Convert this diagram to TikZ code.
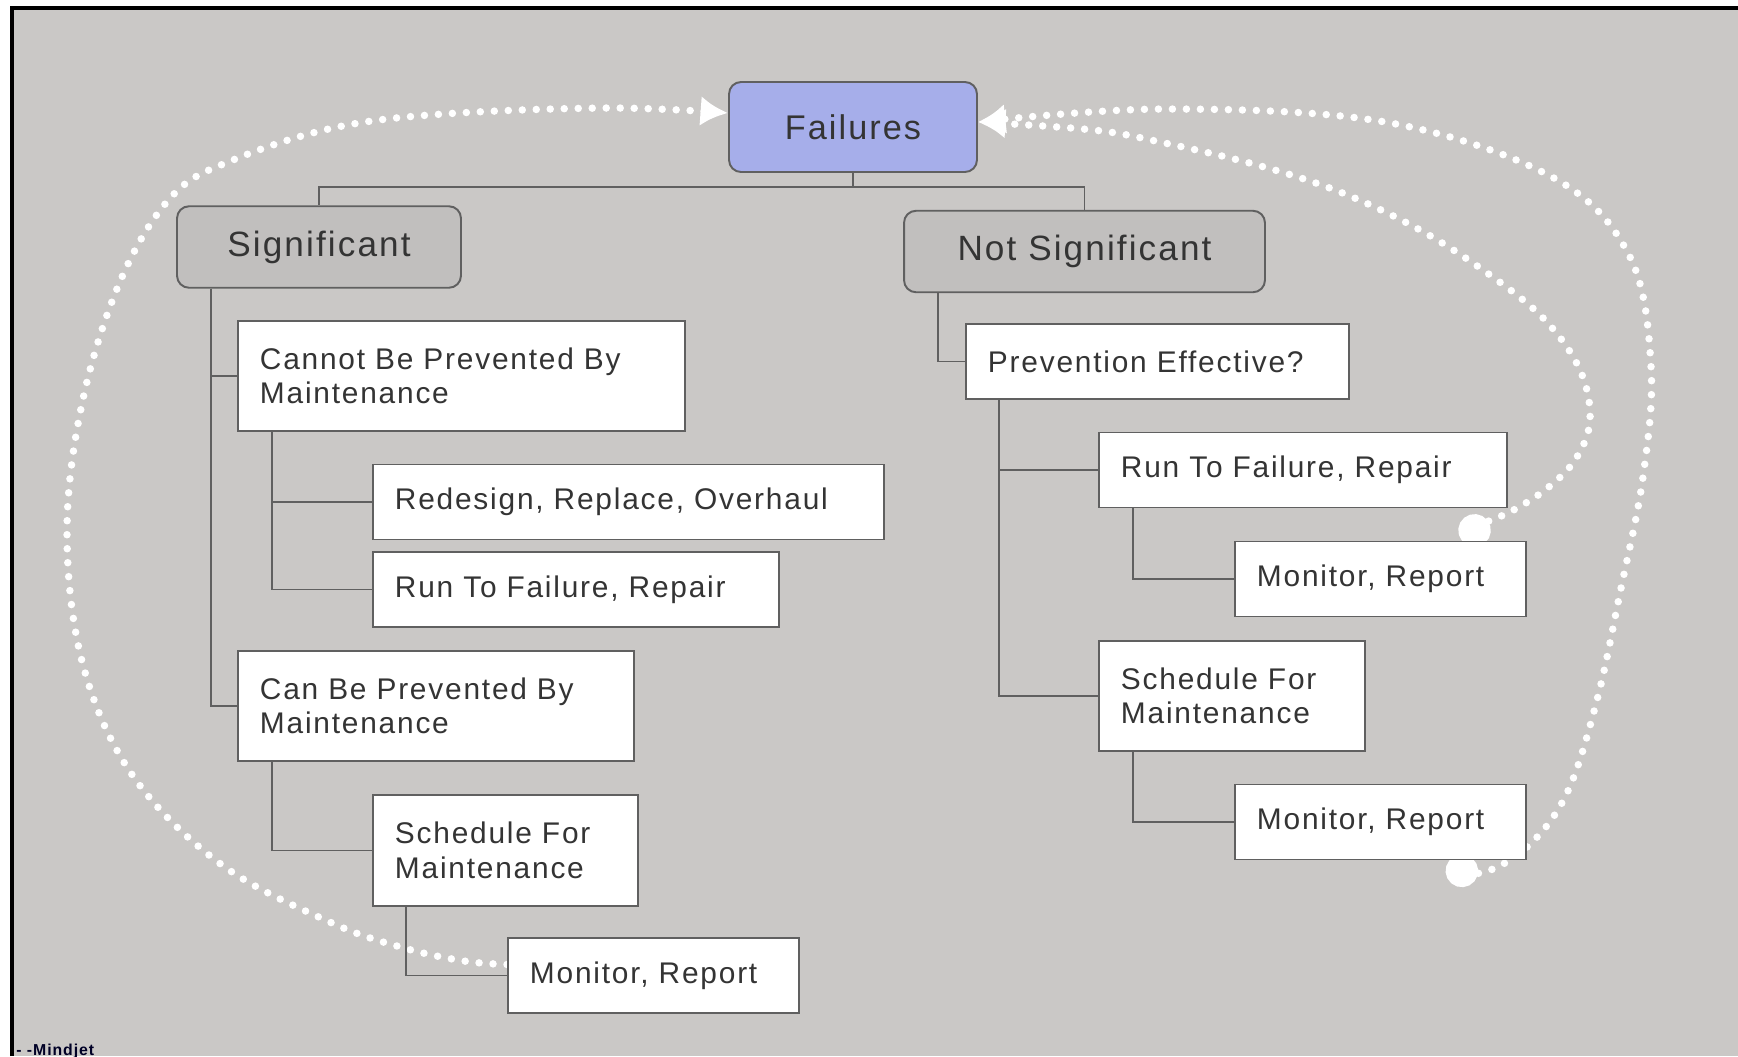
\documentclass[tikz,border=0pt]{standalone}
\usepackage{fontspec}
\setmainfont{Liberation Sans}[LetterSpace=6]
\usetikzlibrary{arrows.meta,calc,backgrounds}
\definecolor{canvasgray}{RGB}{202,200,198}
\definecolor{headgray}{RGB}{193,191,190}
\definecolor{rootblue}{RGB}{166,174,234}
\definecolor{linegray}{RGB}{96,96,96}
\definecolor{textgray}{RGB}{52,52,52}

\begin{document}
\begin{tikzpicture}[x=0.02cm, y=-0.02cm,
    root/.style={rectangle, draw=linegray, fill=rootblue, rounded corners=0.24cm, line width=1.1pt, text=textgray, font=\fontsize{19.5}{23}\selectfont, minimum width=4.96cm, minimum height=1.8cm},
    branch/.style={rectangle, draw=linegray, fill=headgray, rounded corners=0.24cm, line width=1.1pt, text=textgray, font=\fontsize{20}{24}\selectfont, minimum height=1.63cm},
    leaf/.style={rectangle, draw=linegray, fill=white, line width=1.1pt, text=textgray, font=\fontsize{17}{19.6}\selectfont, anchor=west, align=left, inner xsep=0.44cm, minimum height=1.5cm},
    tree/.style={draw=linegray, line width=1.1pt},
    loop/.style={draw=white, line width=0.15cm, line cap=round, dash pattern=on 0pt off 0.28cm, -{Latex[length=0.55cm,width=0.6cm]}}
]
\useasboundingbox (0,0) rectangle (1738,1056);

\node[root] (fail) at (853,127) {Failures};
\node[branch, minimum width=5.68cm] (sig) at (319,247) {Significant};
\node[branch, minimum width=7.22cm] (nsig) at (1084.5,251.5) {Not Significant};

\node[leaf, text width=8.06cm, minimum height=2.2cm] (cannot) at (237,376) {Cannot Be Prevented By\\Maintenance};
\node[leaf, text width=9.34cm] (redesign) at (372,502) {Redesign, Replace, Overhaul};
\node[leaf, text width=7.24cm] (runL) at (372,589.5) {Run To Failure, Repair};
\node[leaf, text width=7.04cm, minimum height=2.2cm] (can) at (237,706) {Can Be Prevented By\\Maintenance};
\node[leaf, text width=4.42cm, minimum height=2.22cm] (schedL) at (372,850.5) {Schedule For\\Maintenance};
\node[leaf, text width=4.94cm] (monL) at (507,975.5) {Monitor, Report};

\node[leaf, text width=6.78cm] (prev) at (965,361.5) {Prevention Effective?};
\node[leaf, text width=7.28cm] (runR) at (1098,470) {Run To Failure, Repair};
\node[leaf, text width=4.94cm] (monA) at (1234,579) {Monitor, Report};
\node[leaf, text width=4.44cm, minimum height=2.2cm] (schedR) at (1098,696) {Schedule For\\Maintenance};
\node[leaf, text width=4.94cm] (monB) at (1234,822) {Monitor, Report};

\coordinate (bar) at (853,187);
\draw[tree] (fail.south) -- (bar);
\draw[tree] (bar) -| (sig.north);
\draw[tree] (bar) -| (nsig.north);
\draw[tree] ([xshift=0.7cm]sig.south west) |- (cannot.west);
\draw[tree] ([xshift=0.7cm]sig.south west) |- (can.west);
\draw[tree] ([xshift=0.7cm]cannot.south west) |- (redesign.west);
\draw[tree] ([xshift=0.7cm]cannot.south west) |- (runL.west);
\draw[tree] ([xshift=0.7cm]can.south west) |- (schedL.west);
\draw[tree] ([xshift=0.68cm]schedL.south west) |- (monL.west);
\draw[tree] ([xshift=0.7cm]nsig.south west) |- (prev.west);
\draw[tree] ([xshift=0.68cm]prev.south west) |- (runR.west);
\draw[tree] ([xshift=0.68cm]prev.south west) |- (schedR.west);
\draw[tree] ([xshift=0.7cm]runR.south west) |- (monA.west);
\draw[tree] ([xshift=0.7cm]schedR.south west) |- (monB.west);

\draw[line width=0.08cm] (12,1056) -- (12,8) -- (1738,8);
\node[font=\bfseries\fontsize{9}{10}\selectfont, text=black!85!blue, anchor=base west, inner sep=0pt] (brand) at (16,1055) {- -Mindjet};

\begin{scope}[on background layer]
\fill[canvasgray] (12,8) rectangle (1738,1056);
\draw[loop] plot[smooth, tension=0.6] coordinates {([yshift=0.22cm]monL.west) (464,961) (404,948) (332,923) (222,865) (133,776) (83,665) (67,532) (83,399) (122,277) (173,195) (233,160) (333,128) (443,114) (610,108) ([yshift=0.28cm]fail.west)};
\draw[loop, {Circle[length=0.65cm]}-{Latex[length=0.55cm,width=0.6cm]}] plot[smooth, tension=0.6] coordinates {([xshift=-1.3cm]monA.north east) (1487,522) (1510,512) (1545,490) (1575,460) (1590,420) (1580,370) (1545,320) (1490,275) (1420,230) (1340,192) (1257,165) (1160,142) (1093,130) ([yshift=0.1cm]fail.east)};
\draw[loop, {Circle[length=0.65cm]}-{Latex[length=0.55cm,width=0.6cm]}] plot[smooth, tension=0.6] coordinates {([xshift=-1.55cm]monB.south east) (1480,873) (1527,847) (1567,793) (1597,700) (1620,593) (1643,477) (1651,366) (1629,255) (1552,177) (1385,122) (1164,109) ([yshift=0.1cm]fail.east)};
\end{scope}
\end{tikzpicture}
\end{document}
